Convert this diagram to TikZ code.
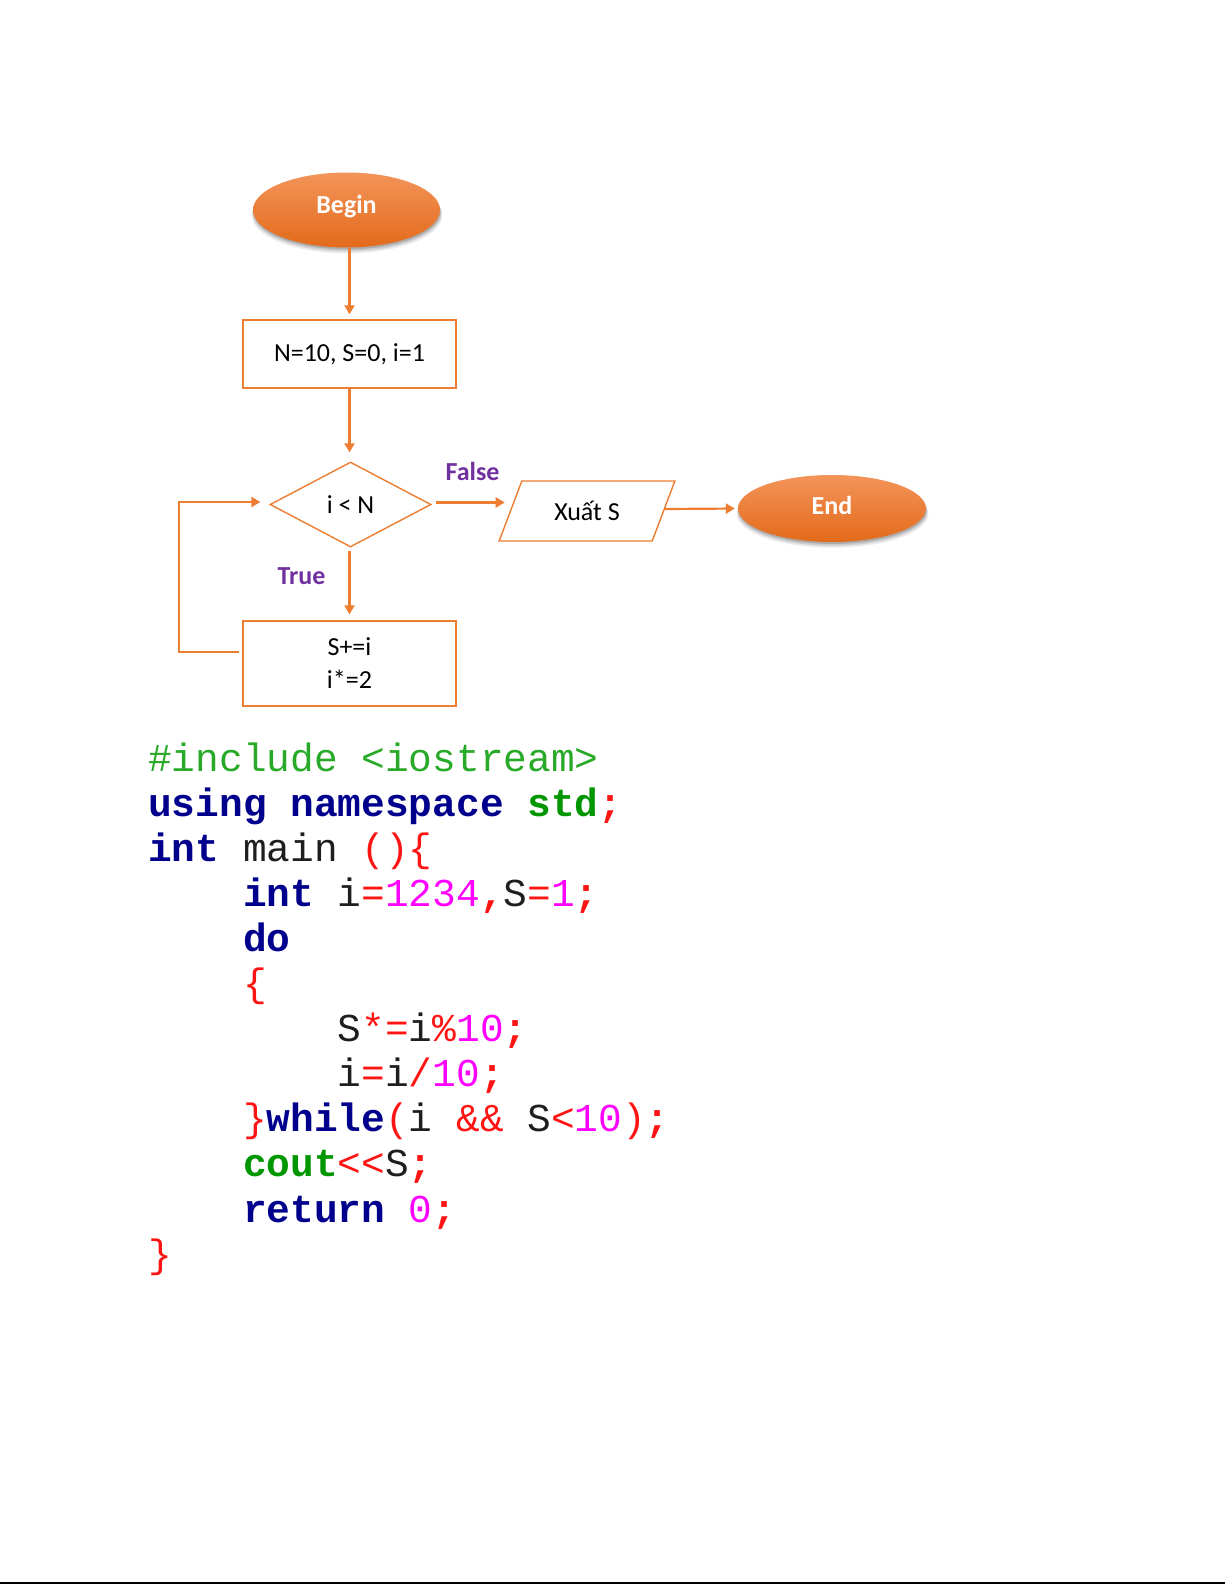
\documentclass[tikz,border=0pt]{standalone}
\usepackage{fontspec}
\setmainfont{Carlito}
\newfontfamily\codefont{Liberation Mono}
\usetikzlibrary{shapes.geometric, arrows.meta, shadows}

\definecolor{flowor}{RGB}{237,125,49}
\definecolor{ovtop}{RGB}{243,148,90}
\definecolor{ovbot}{RGB}{227,106,26}
\definecolor{lblpurple}{RGB}{112,48,160}
\definecolor{kwblue}{RGB}{0,0,140}
\definecolor{stdgreen}{RGB}{0,150,0}
\definecolor{ppgreen}{RGB}{40,170,40}
\definecolor{opred}{RGB}{255,20,20}
\definecolor{nummag}{RGB}{255,0,255}
\definecolor{codeblack}{RGB}{30,30,30}

\newcommand\ckw[1]{{\bfseries\color{kwblue}#1}}
\newcommand\cstd[1]{{\bfseries\color{stdgreen}#1}}
\newcommand\cop[1]{{\color{opred}#1}}
\newcommand\copb[1]{{\bfseries\color{opred}#1}}
\newcommand\cnum[1]{{\color{nummag}#1}}

\tikzset{
  flowfont/.style={font=\fontsize{26}{33}\selectfont},
  oval/.style={ellipse, top color=ovtop, bottom color=ovbot, draw=none,
    drop shadow={shadow xshift=0.5pt, shadow yshift=-5pt, shadow scale=1.02, opacity=0.08, fill=black},
    drop shadow={shadow xshift=0.5pt, shadow yshift=-3.5pt, shadow scale=1.01, opacity=0.12, fill=black},
    drop shadow={shadow xshift=0.5pt, shadow yshift=-2pt, opacity=0.16, fill=black},
    text=white, font=\fontsize{26}{33}\selectfont\bfseries, inner sep=0pt},
  procbox/.style={rectangle, draw=flowor, line width=1.4pt, inner sep=0pt,
    minimum width=213pt, align=center, flowfont},
  decision/.style={diamond, draw=flowor, line width=1.4pt, inner sep=0pt,
    minimum width=161pt, minimum height=85pt, flowfont},
  iobox/.style={trapezium, trapezium left angle=60, trapezium right angle=120,
    trapezium stretches=true, draw=flowor, line width=1.4pt, inner sep=0pt,
    minimum width=176.5pt, minimum height=60pt, flowfont},
  flowarrow/.style={draw=flowor, line width=2.2pt, -{Triangle[length=9pt,width=10pt]}},
  branchlbl/.style={text=lblpurple, font=\fontsize{26}{33}\selectfont\bfseries, inner sep=0pt},
  codeline/.style={anchor=base west, inner sep=0pt, text=codeblack,
    font=\codefont\fontsize{39.5}{45}\selectfont}
}

\begin{document}
\begin{tikzpicture}[x=1pt, y=-1pt]
\useasboundingbox[fill=white] (0,0) rectangle (1225,1585);

% flowchart nodes
\node[oval, minimum width=187pt, minimum height=75pt] (begin) at (346.5,210) {\raisebox{-3pt}[0pt][0pt]{Begin}};
\node[procbox, minimum height=68pt] (b1) at (349.5,354) {N=10, S=0, i=1};
\node[decision] (d) at (350.5,504.5) {i < N};
\node[procbox, minimum height=85pt] (b2) at (349.5,663.5) {S+=i\\[0pt]i*=2};
\node[iobox] (xs) at (587,511) {Xuất S};
\node[oval, minimum width=188pt, minimum height=67pt] (end) at (832,508.5) {\raisebox{-6pt}[0pt][0pt]{End}};

\node[branchlbl] (lf) at (472.5,471) {False};
\node[branchlbl] (lt) at (301.5,576) {True};

% connectors
\draw[flowarrow, shorten >=5pt] (b1.north |- begin.south) -- (b1.north);
\draw[flowarrow, shorten >=9pt] (b1.south) -- (b1.south |- d.north);
\draw[flowarrow, shorten <=3pt, shorten >=6pt] (b2.north |- d.south) -- (b2.north);
\draw[flowarrow, shorten <=4pt, shorten >=5pt] ([yshift=2pt]d.east) -- ([yshift=2pt]d.east -| xs.west);
\draw[flowarrow, shorten >=3pt] ([yshift=2pt]xs.east) -- (end.west);
\draw[flowarrow, shorten <=3pt, shorten >=9pt] ([yshift=11.5pt]b2.west) -- ++(-63,0) |- ([yshift=2.5pt]d.west);

% code
\node[codeline] (c0) at (148,771) {\color{ppgreen}\#include <iostream>};
\node[codeline] (c1) at (148,816.1) {\ckw{using namespace} \cstd{std}\copb{;}};
\node[codeline] (c2) at (148,861.2) {\ckw{int} main \cop{()\{}};
\node[codeline] (c3) at (242.8,906.3) {\ckw{int} i\cop{=}\cnum{1234}\copb{,}S\cop{=}\cnum{1}\copb{;}};
\node[codeline] (c4) at (242.8,951.4) {\ckw{do}};
\node[codeline] (c5) at (242.8,996.5) {\cop{\{}};
\node[codeline] (c6) at (337.6,1041.6) {S\cop{*=}i\cop{\%}\cnum{10}\copb{;}};
\node[codeline] (c7) at (337.6,1086.7) {i\cop{=}i\cop{/}\cnum{10}\copb{;}};
\node[codeline] (c8) at (242.8,1131.8) {\cop{\}}\ckw{while}\cop{(}i \cop{\&\&} S\cop{<}\cnum{10}\cop{)}\copb{;}};
\node[codeline] (c9) at (242.8,1176.9) {\cstd{cout}\cop{<\kern0pt<}S\copb{;}};
\node[codeline] (c10) at (242.8,1222) {\ckw{return} \cnum{0}\copb{;}};
\node[codeline] (c11) at (148,1267.1) {\cop{\}}};

% bottom rule
\draw[line width=1.5pt, black] (0,1583) -- (1225,1583);
\end{tikzpicture}
\end{document}
